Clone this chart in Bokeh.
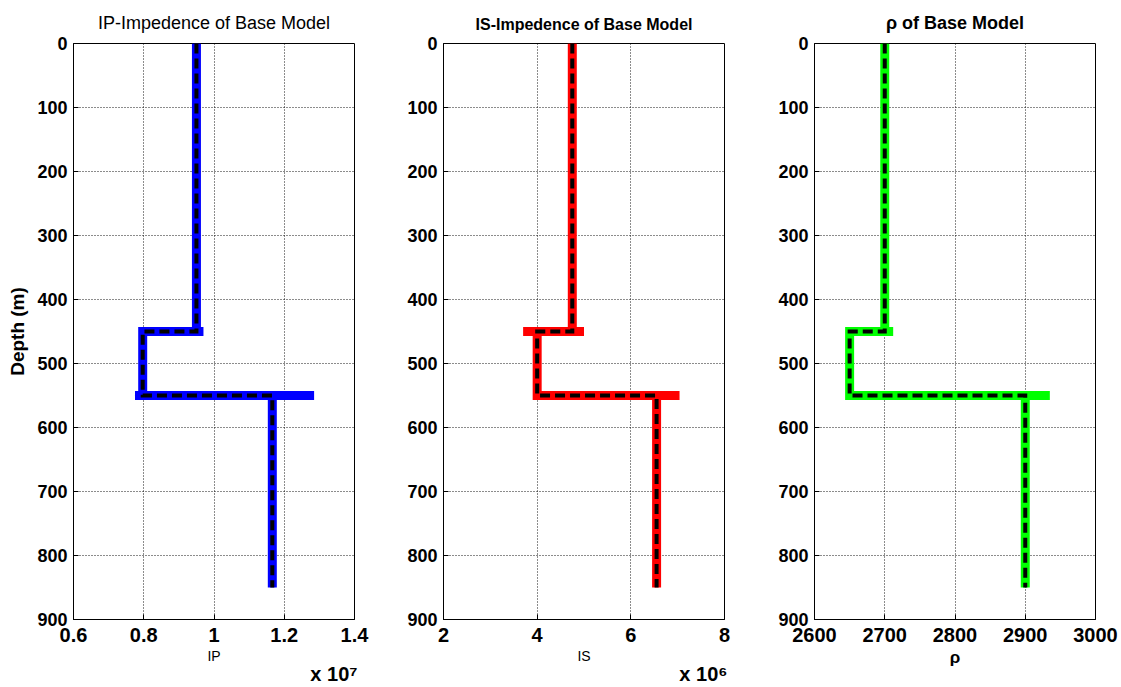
from bokeh.plotting import figure
from bokeh.models import Range1d, FixedTicker, Title
from bokeh.layouts import row
from bokeh.embed import file_html
from bokeh.resources import INLINE

# depth axis
depth_ticks = [0, 100, 200, 300, 400, 500, 600, 700, 800, 900]

# P-impedance: measured log (with interface overshoot) and blocky base model
ip_true_depth = [0, 450, 450, 450, 550, 550, 550, 550, 850]
ip_true = [9.5e6, 9.5e6, 9.7e6, 7.97e6, 7.97e6, 7.75e6, 12.85e6, 11.66e6, 11.66e6]
ip_base_depth = [0, 450, 450, 550, 550, 850]
ip_base = [9.5e6, 9.5e6, 7.97e6, 7.97e6, 11.66e6, 11.66e6]
ip_ticks = [6e6, 8e6, 1e7, 1.2e7, 1.4e7]
ip_tick_labels = ["0.6", "0.8", "1", "1.2", "1.4"]

# S-impedance
is_true_depth = [0, 450, 450, 450, 450, 550, 550, 550, 850]
is_true = [4.75e6, 4.75e6, 5.0e6, 3.7e6, 4.0e6, 4.0e6, 7.04e6, 6.55e6, 6.55e6]
is_base_depth = [0, 450, 450, 550, 550, 850]
is_base = [4.75e6, 4.75e6, 4.0e6, 4.0e6, 6.55e6, 6.55e6]
is_ticks = [2e6, 4e6, 6e6, 8e6]
is_tick_labels = ["2", "4", "6", "8"]

# density
rho_true_depth = [0, 450, 450, 450, 550, 550, 550, 850]
rho_true = [2700, 2700, 2712, 2650, 2650, 2935, 2900, 2900]
rho_base_depth = [0, 450, 450, 550, 550, 850]
rho_base = [2700, 2700, 2650, 2650, 2900, 2900]
rho_ticks = [2600, 2700, 2800, 2900, 3000]
rho_tick_labels = ["2600", "2700", "2800", "2900", "3000"]

FONT = "Liberation Sans"
FRAME_W = 281
FRAME_H = 576
TOP = 43
BOTTOM = 68


def panel(title, title_style, title_size, xlabel, xlabel_style, xlabel_size,
          xr, ticks, labels, true_x, true_d, base_x, base_d, color,
          left, right, exponent=None, ylabel=None):
    p = figure(frame_width=FRAME_W, frame_height=FRAME_H,
               width=left + FRAME_W + right, height=TOP + FRAME_H + BOTTOM,
               min_border_left=left, min_border_right=right,
               min_border_top=TOP, min_border_bottom=BOTTOM,
               x_range=Range1d(*xr), y_range=Range1d(900, 0),
               output_backend="svg", toolbar_location=None,
               background_fill_color="white", border_fill_color="white")
    p.title = Title(text=title, align="center", text_font=FONT,
                    text_font_size=title_size, text_font_style=title_style,
                    text_color="black", standoff=21)
    p.outline_line_color = "black"
    p.outline_line_width = 1

    p.xaxis.ticker = FixedTicker(ticks=ticks)
    p.xaxis.major_label_overrides = dict(zip(ticks, labels))
    p.yaxis.ticker = FixedTicker(ticks=depth_ticks)
    for ax in (p.xaxis[0], p.yaxis[0]):
        ax.major_tick_in = 5
        ax.major_tick_out = 0
        ax.minor_tick_in = 0
        ax.minor_tick_out = 0
        ax.axis_line_color = "black"
        ax.major_tick_line_color = "black"
        ax.major_label_text_font = FONT
        ax.major_label_text_font_style = "bold"
        ax.major_label_text_color = "black"
        ax.axis_label_text_color = "black"
    p.xaxis.major_label_text_font_size = "20px"
    p.xaxis.major_label_standoff = 8
    p.yaxis.major_label_text_font_size = "18px"
    p.yaxis.major_label_standoff = 6

    p.xaxis.axis_label = xlabel
    p.xaxis.axis_label_text_font = FONT
    p.xaxis.axis_label_text_font_style = xlabel_style
    p.xaxis.axis_label_text_font_size = xlabel_size
    p.xaxis.axis_label_standoff = 3
    if ylabel:
        p.yaxis.axis_label = ylabel
        p.yaxis.axis_label_text_font = FONT
        p.yaxis.axis_label_text_font_style = "bold"
        p.yaxis.axis_label_text_font_size = "19px"
        p.yaxis.axis_label_standoff = 6

    p.xgrid.ticker = FixedTicker(ticks=ticks)
    p.ygrid.ticker = FixedTicker(ticks=depth_ticks)
    for g in (p.xgrid[0], p.ygrid[0]):
        g.grid_line_color = "black"
        g.grid_line_alpha = 0.9
        g.grid_line_dash = "1 2"
        g.grid_line_width = 1

    p.line(true_x, true_d, line_color=color, line_width=9,
           line_join="miter", line_cap="butt")
    p.line(base_x, base_d, line_color="black", line_width=4,
           line_dash="10 5", line_join="miter", line_cap="butt")

    if exponent:
        # axis multiplier written under the right end of the x axis
        p.add_layout(Title(text="x 10" + exponent, align="right", offset=-3,
                           standoff=-12, text_font=FONT, text_font_style="bold",
                           text_font_size="20px", text_color="black"), "below")
    return p


p1 = panel("IP-Impedence of Base Model", "normal", "18px", "IP", "normal", "14px",
           (6e6, 1.4e7), ip_ticks, ip_tick_labels, ip_true, ip_true_depth,
           ip_base, ip_base_depth, "#0000ff", 73, 29, exponent="⁷", ylabel="Depth (m)")
p2 = panel("IS-Impedence of Base Model", "bold", "16px", "IS", "normal", "14px",
           (2e6, 8e6), is_ticks, is_tick_labels, is_true, is_true_depth,
           is_base, is_base_depth, "#ff0000", 60, 30, exponent="⁶")
p3 = panel("ρ of Base Model", "bold", "18px", "ρ", "bold", "17px",
           (2600, 3000), rho_ticks, rho_tick_labels, rho_true, rho_true_depth,
           rho_base, rho_base_depth, "#00ff00", 60, 26)

layout = row(p1, p2, p3, spacing=0)
open("out.html", "w").write(file_html(layout, INLINE))
